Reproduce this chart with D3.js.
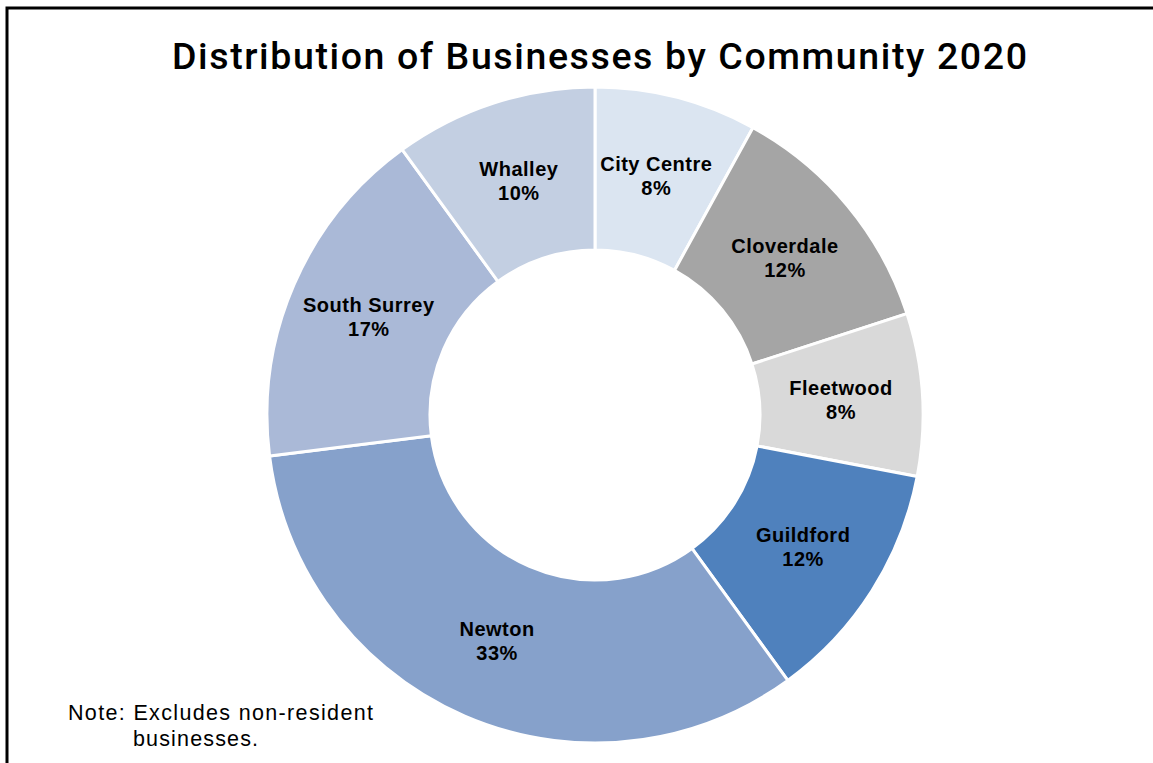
<!DOCTYPE html>
<html>
<head>
<meta charset="utf-8">
<script src="https://cdn.jsdelivr.net/npm/d3@7"></script>
<style>
  html, body { margin: 0; padding: 0; background: #fff; }
  svg { display: block; }
</style>
</head>
<body>
<svg id="chart" width="1153" height="763"></svg>
<script>
// Share of businesses by community, 2020 (percent)
const communities = ["City Centre", "Cloverdale", "Fleetwood", "Guildford", "Newton", "South Surrey", "Whalley"];
const shares = [8, 12, 8, 12, 33, 17, 10];
const sliceColors = ["#dbe5f1", "#a5a5a5", "#d9d9d9", "#4f81bd", "#86a1cb", "#aab9d7", "#c3cfe2"];

const svg = d3.select("#chart");
const W = 1153, H = 763;
const cx = 595, cy = 415, outerR = 328, innerR = 165;

// frame: only the top and left edges fall inside the page
svg.append("path")
  .attr("d", `M7,${H + 5} L7,8 L${W + 5},8`)
  .attr("fill", "none")
  .attr("stroke", "#000")
  .attr("stroke-width", 3);

svg.append("text")
  .attr("x", 172)
  .attr("y", 69)
  .attr("font-family", "Roboto, Liberation Sans, Arial, sans-serif")
  .attr("font-size", 37.5)
  .attr("font-weight", 500)
  .attr("textLength", 855)
  .attr("lengthAdjust", "spacing")
  .attr("fill", "#000")
  .text("Distribution of Businesses by Community 2020");

const rows = communities.map((c, i) => ({ name: c, value: shares[i], color: sliceColors[i] }));

const pie = d3.pie().value(d => d.value).sort(null);
const arc = d3.arc().innerRadius(innerR).outerRadius(outerR);

const g = svg.append("g").attr("transform", `translate(${cx},${cy})`);
const arcs = pie(rows);

g.selectAll("path.slice")
  .data(arcs)
  .join("path")
  .attr("class", "slice")
  .attr("d", arc)
  .attr("fill", d => d.data.color)
  .attr("stroke", "#fff")
  .attr("stroke-width", 3)
  .attr("stroke-linejoin", "miter");

const labels = g.selectAll("text.lbl")
  .data(arcs)
  .join("text")
  .attr("class", "lbl")
  .attr("transform", d => `translate(${arc.centroid(d)})`)
  .attr("text-anchor", "middle")
  .attr("font-family", "Liberation Sans, Arial, sans-serif")
  .attr("font-size", 20)
  .attr("font-weight", "bold")
  .attr("letter-spacing", 0.5)
  .attr("fill", "#000");

labels.append("tspan").attr("x", 0).attr("y", -5).text(d => d.data.name);
labels.append("tspan").attr("x", 0).attr("y", 19).text(d => d.data.value + "%");

const note = svg.append("text")
  .attr("font-family", "Liberation Sans, Arial, sans-serif")
  .attr("font-size", 21.5)
  .attr("fill", "#000");
note.append("tspan").attr("x", 68).attr("y", 720)
  .attr("textLength", 305).attr("lengthAdjust", "spacing")
  .text("Note: Excludes non-resident");
note.append("tspan").attr("x", 133).attr("y", 746)
  .attr("textLength", 125).attr("lengthAdjust", "spacing")
  .text("businesses.");
</script>
</body>
</html>
